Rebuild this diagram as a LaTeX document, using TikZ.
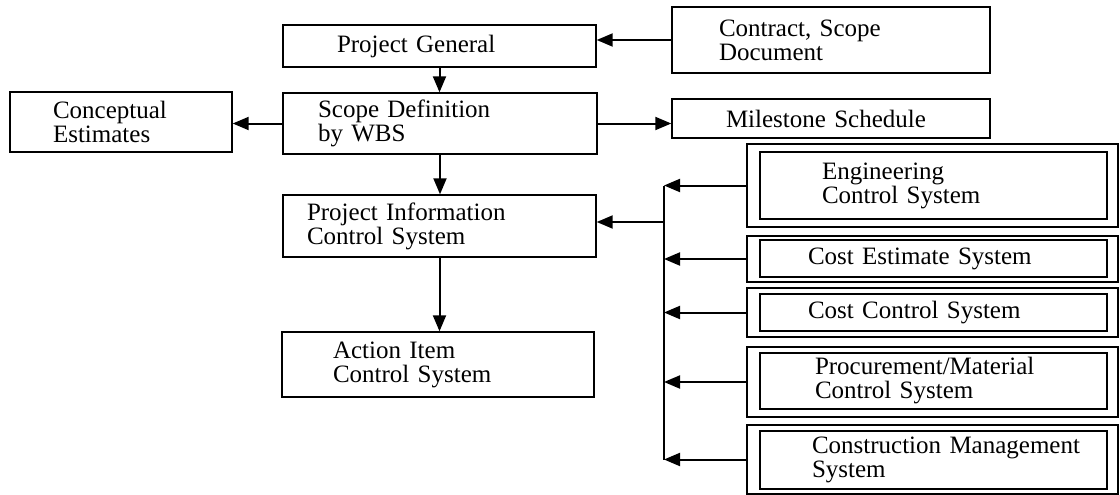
\documentclass[tikz,border=0pt]{standalone}
\usepackage{fontspec}
\setmainfont{Liberation Serif}
\usepackage{tikz}
\usetikzlibrary{arrows.meta}

\DeclareRobustCommand\boxfont{\fontsize{25}{24}\selectfont\spaceskip=0.48em plus 0.1em\relax}

\tikzset{
  block/.style={rectangle, draw, line width=1.4pt, align=left, inner ysep=0pt, font=\boxfont},
  sysframe/.style={rectangle, draw, line width=1.4pt, inner sep=0pt, minimum width=371pt},
  link/.style={line width=2pt, ->},
}

\begin{document}
\begin{tikzpicture}[x=1pt, y=-1pt, >={Triangle[length=16pt,width=13pt]}]
      \useasboundingbox (0,0) rectangle (1120,495);

      % main column
      \node (pg) [block, minimum width=313pt, minimum height=42pt, inner xsep=54pt, text width=205pt] at (439.5,46) {Project General};
      \node (sd) [block, minimum width=314pt, minimum height=61pt, inner xsep=35pt, text width=244pt] at (440,123.5) {Scope Definition\\ by WBS};
      \node (pics) [block, minimum width=313pt, minimum height=62pt, inner xsep=24pt, text width=265pt] at (439.5,226) {Project Information\\ Control System};
      \node (act) [block, minimum width=312pt, minimum height=65pt, inner xsep=51pt, text width=210pt] at (438,364.5) {Action Item\\ Control System};

      % side boxes
      \node (conc) [block, minimum width=222pt, minimum height=60pt, inner xsep=43pt, text width=136pt] at (121,122) {Conceptual\\ Estimates};
      \node (ctr) [block, minimum width=318pt, minimum height=66pt, inner xsep=47pt, text width=224pt] at (831,40) {Contract, Scope\\ Document};
      \node (ms) [block, minimum width=318pt, minimum height=39pt, inner xsep=54pt, text width=210pt] at (831,118.5) {\mbox{Milestone Schedule}};

      % sub-systems (double frames)
      \node (engf) [sysframe, minimum height=83pt] at (932.5,185.5) {};
      \node (eng) [block, minimum width=347pt, minimum height=67pt, inner xsep=62pt, text width=223pt] at (933.5,185.5) {Engineering\\ Control System};
      \node (cestf) [sysframe, minimum height=46pt] at (932.5,259) {};
      \node (cest) [block, minimum width=347pt, minimum height=37pt, inner xsep=48pt, text width=251pt] at (933.5,258.5) {\mbox{Cost Estimate System}};
      \node (cctlf) [sysframe, minimum height=49pt] at (932.5,312.5) {};
      \node (cctl) [block, minimum width=347pt, minimum height=37pt, inner xsep=48pt, text width=251pt] at (933.5,312.5) {\mbox{Cost Control System}};
      \node (procf) [sysframe, minimum height=70pt] at (932.5,382) {};
      \node (proc) [block, minimum width=347pt, minimum height=56pt, inner xsep=55pt, text width=237pt] at (933.5,381) {Procurement/Material\\ Control System};
      \node (consf) [sysframe, minimum height=69pt] at (932.5,459.5) {};
      \node (cons) [block, minimum width=347pt, minimum height=58pt, inner xsep=52pt, text width=243pt] at (933.5,460) {\mbox{Construction Management}\\ System};

      \draw[link] (ctr.west) -- (ctr.west -| pg.east);
      \draw[link] (pg.south) -- (pg.south |- sd.north);
      \draw[link] (sd.west) -- (sd.west -| conc.east);
      \draw[link] (sd.east) -- (sd.east -| ms.west);
      \draw[link] (sd.south) -- (sd.south |- pics.north);
      \draw[link] (pics.south) -- (pics.south |- act.north);

      % collecting line
      \coordinate (bus) at (664,222);
      \draw[link] (bus) -- (bus -| pics.east);
      \draw[line width=2pt] (engf.west -| bus) -- (consf.west -| bus);
      \foreach \n in {engf,cestf,cctlf,procf,consf}
        \draw[link] (\n.west) -- (\n.west -| bus);
    \end{tikzpicture}
\end{document}
